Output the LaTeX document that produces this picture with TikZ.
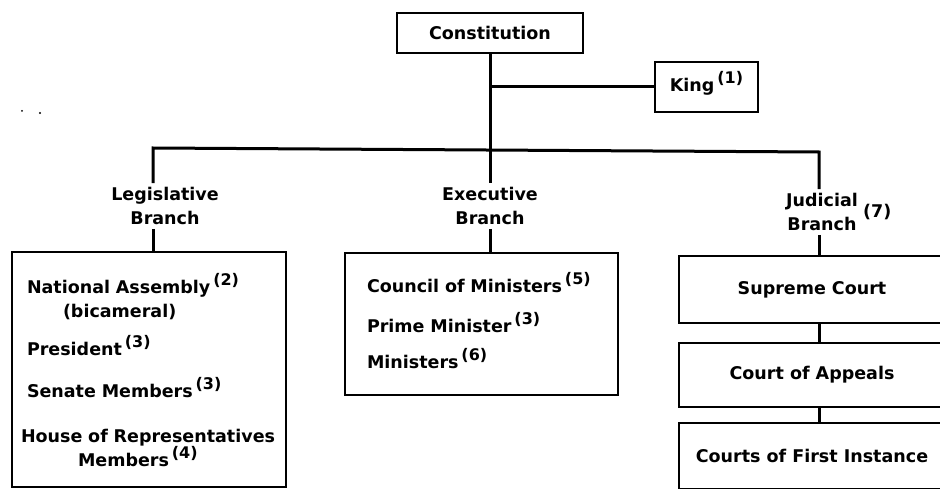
\documentclass[tikz,border=0pt]{standalone}
\usepackage{fontspec}
\setmainfont{DejaVu Sans}
\usetikzlibrary{positioning}

\newcommand\fnote[1]{\,\raisebox{8pt}[0pt][0pt]{\fontsize{16}{16}\selectfont(#1)}}

\begin{document}
\begin{tikzpicture}[x=1pt,y=-1pt,
  font=\fontsize{17.5}{24}\selectfont\bfseries,
  box/.style={draw,line width=2.8pt,rectangle,inner sep=0pt},
  lbl/.style={align=center,inner sep=4pt},
  conn/.style={line width=3pt}]
\clip (0,0) rectangle (940,489);
% top
\node[box,minimum width=186,minimum height=40] (const) at (490,33) {Constitution};
\node[box,minimum width=103,minimum height=50] (king) at (706.5,87) {King\fnote{1}};
% branch labels
\node[lbl] (legl) at (165,206) {Legislative\\Branch};
\node[lbl] (exel) at (490,206) {Executive\\Branch};
\node[lbl] (judl) at (822,212) {Judicial\\Branch};
\node[inner sep=1pt,right=0pt of judl] (jnote) {(7)};
% boxes
\node[box,minimum width=274,minimum height=235,text width=256pt,inner xsep=9pt,align=left] (leg) at (149,369.5)
  {\rule{0pt}{21pt}\hspace*{6pt}National Assembly\fnote{2}\\
   \hspace*{42pt}(bicameral)\\[14pt]
   \hspace*{6pt}President\fnote{3}\\[18pt]
   \hspace*{6pt}Senate Members\fnote{3}\\[21pt]
   House of Representatives\\
   \hspace*{57pt}Members\fnote{4}};
\node[box,minimum width=273,minimum height=142,text width=229pt,inner xsep=22pt,align=left] (exe) at (481.5,324)
  {Council of Ministers\fnote{5}\\[16pt]
   Prime Minister\fnote{3}\\[12pt]
   Ministers\fnote{6}};
\node[box,minimum width=266,minimum height=67] (sup) at (812,289.5) {Supreme Court};
\node[box,minimum width=266,minimum height=64] (app) at (812,375) {Court of Appeals};
\node[box,minimum width=266,minimum height=66] (first) at (812,456) {Courts of First Instance};
% connectors
\coordinate (barL) at (153,148);
\coordinate (barR) at (819,152);
\draw[conn] (const) -- (exel);
\draw[conn] (king.west) -- (king.west -| const.south);
\draw[conn] (legl.north -| barL) -- (barL) -- (barR) -- (barR |- judl.north);
\draw[conn] (legl.south -| barL) -- (leg.north -| barL);
\draw[conn] (exel.south) -- (exel.south |- exe.north);
\draw[conn] (judl.south -| barR) -- (sup.north -| barR);
\draw[conn] (sup.south -| barR) -- (app.north -| barR);
\draw[conn] (app.south -| barR) -- (first.north -| barR);
\fill (22,111) circle (1pt);
\fill (40,113) circle (1.2pt);
\end{tikzpicture}
\end{document}
